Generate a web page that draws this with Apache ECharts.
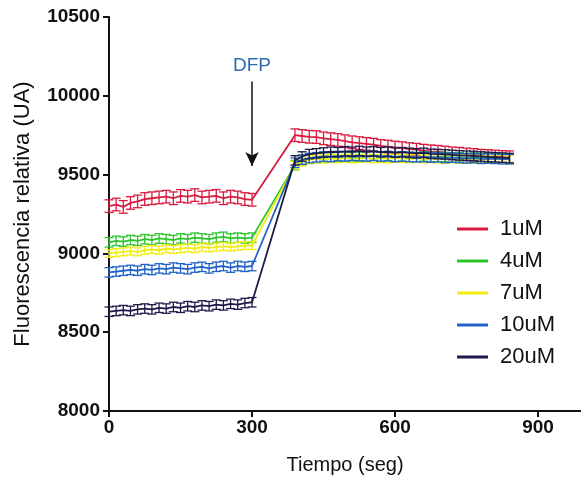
<!DOCTYPE html>
<html>
<head>
<meta charset="utf-8">
<script src="https://cdn.jsdelivr.net/npm/echarts@6/dist/echarts.min.js"></script>
<style>
  html, body { margin: 0; padding: 0; background: #fff; }
  #chart { width: 581px; height: 477px; }
</style>
</head>
<body>
<div id="chart"></div>
<script>
// time points (s): before DFP every 15 s, then after the gap
const times = [
  0, 15, 30, 45, 60, 75, 90, 105, 120, 135, 150, 165, 180, 195, 210, 225, 240, 255, 270, 285, 300,
  390, 405, 420, 435, 450, 465, 480, 495, 510, 525, 540, 555, 570, 585, 600, 615, 630, 645, 660,
  675, 690, 705, 720, 735, 750, 765, 780, 795, 810, 825, 840
]

const names = ['1uM', '4uM', '7uM', '10uM', '20uM']
const colors = ['#d81b3f', '#2ec42e', '#f2ec12', '#1f63c6', '#1e1b4b']

const v1 = [
  9300, 9310, 9295, 9320, 9330, 9345, 9350, 9355, 9360, 9350, 9365, 9360, 9370, 9355, 9360, 9365, 9350, 9360, 9355, 9345, 9340,
  9750, 9745, 9740, 9738, 9730, 9725, 9720, 9712, 9705, 9700, 9695, 9690, 9682, 9678, 9672, 9668, 9662, 9658, 9652, 9648,
  9645, 9640, 9635, 9632, 9628, 9625, 9620, 9618, 9615, 9612, 9610
]
const v4 = [
  9070, 9080, 9075, 9085, 9080, 9090, 9085, 9095, 9090, 9085, 9095, 9090, 9100, 9095, 9090, 9100, 9105, 9095, 9100, 9095, 9100,
  9560, 9590, 9600, 9605, 9610, 9608, 9612, 9615, 9610, 9612, 9615, 9618, 9612, 9615, 9610, 9615, 9612, 9610, 9615, 9612,
  9610, 9612, 9608, 9610, 9605, 9608, 9605, 9610, 9605, 9602, 9600
]
const v7 = [
  9000, 9005, 9010, 9015, 9010, 9020, 9025, 9020, 9030, 9025, 9030, 9035, 9030, 9040, 9035, 9040, 9045, 9040, 9045, 9050, 9050,
  9560, 9580, 9595, 9600, 9598, 9602, 9600, 9605, 9600, 9602, 9605, 9600, 9603, 9600, 9605, 9602, 9600, 9603, 9600, 9602,
  9600, 9598, 9600, 9598, 9600, 9597, 9598, 9596, 9598, 9595, 9595
]
const v10 = [
  8880, 8885, 8890, 8895, 8890, 8900, 8895, 8905, 8900, 8910, 8905, 8900, 8910, 8915, 8905, 8915, 8920, 8910, 8920, 8915, 8920,
  9575, 9595, 9605, 9610, 9615, 9612, 9618, 9615, 9620, 9618, 9615, 9620, 9615, 9618, 9612, 9615, 9612, 9610, 9612, 9608,
  9610, 9605, 9608, 9605, 9603, 9605, 9600, 9602, 9600, 9598, 9598
]
const v20 = [
  8630, 8635, 8640, 8635, 8645, 8650, 8645, 8655, 8650, 8660, 8655, 8665, 8660, 8670, 8665, 8675, 8670, 8680, 8675, 8685, 8690,
  9590, 9615, 9630, 9635, 9640, 9645, 9642, 9648, 9645, 9650, 9645, 9648, 9642, 9645, 9640, 9642, 9638, 9635, 9638, 9632,
  9630, 9628, 9625, 9622, 9620, 9618, 9615, 9612, 9610, 9608, 9605
]
const values = [v1, v4, v7, v10, v20]
// half width of the error bars (UA), one per series
const errs = [40, 30, 25, 30, 30]

const font = 'Liberation Sans, Arial, sans-serif'
const chart = echarts.init(document.getElementById('chart'))

function errorSeries(idx) {
  const data = times.map((t, i) => [t, values[idx][i] - errs[idx], values[idx][i] + errs[idx]])
  return {
    type: 'custom',
    name: names[idx] + '-err',
    silent: true,
    data,
    z: 2 + idx,
    renderItem(params, api) {
      const lo = api.coord([api.value(0), api.value(1)])
      const hi = api.coord([api.value(0), api.value(2)])
      const w = 4.5
      const style = { stroke: colors[idx], lineWidth: 1.3 }
      return {
        type: 'group',
        children: [
          { type: 'line', shape: { x1: lo[0], y1: lo[1], x2: hi[0], y2: hi[1] }, style },
          { type: 'line', shape: { x1: lo[0] - w, y1: lo[1], x2: lo[0] + w, y2: lo[1] }, style },
          { type: 'line', shape: { x1: hi[0] - w, y1: hi[1], x2: hi[0] + w, y2: hi[1] }, style }
        ]
      }
    }
  }
}

const series = []
names.forEach((name, idx) => {
  series.push(errorSeries(idx))
  const s = {
    type: 'line',
    name,
    data: times.map((t, i) => [t, values[idx][i]]),
    showSymbol: false,
    z: 2 + idx,
    lineStyle: { color: colors[idx], width: 1.8 },
    itemStyle: { color: colors[idx] }
  }
  if (idx === 0) {
    s.markLine = {
      silent: true,
      symbol: ['none', 'arrow'],
      symbolSize: [10, 14],
      lineStyle: { color: '#111', width: 1.5, type: 'solid' },
      label: {
        show: true,
        position: 'start',
        formatter: 'DFP',
        color: '#2a6db5',
        fontSize: 19,
        fontFamily: font,
        distance: 6
      },
      data: [[{ coord: [300, 10090] }, { coord: [300, 9555] }]]
    }
  }
  series.push(s)
})

chart.setOption({
  animation: false,
  color: colors,
  grid: { left: 109, right: 0, top: 17, bottom: 66, outerBoundsMode: 'none' },
  legend: {
    data: names,
    orient: 'vertical',
    left: 452,
    top: 213,
    icon: 'rect',
    itemWidth: 31,
    itemHeight: 3,
    itemGap: 10,
    textStyle: { fontSize: 22, color: '#111', fontFamily: font, padding: [0, 0, 0, 7] }
  },
  xAxis: {
    type: 'value',
    min: 0,
    max: 990,
    interval: 300,
    name: 'Tiempo (seg)',
    nameLocation: 'middle',
    nameGap: 44,
    nameTextStyle: { fontSize: 20, color: '#111', fontFamily: font },
    axisLine: { lineStyle: { color: '#111', width: 2 } },
    axisTick: { length: 6, lineStyle: { color: '#111', width: 2 } },
    axisLabel: { fontSize: 19, fontWeight: 'bold', color: '#111', fontFamily: font, margin: 7, showMaxLabel: false },
    splitLine: { show: false }
  },
  yAxis: {
    type: 'value',
    min: 8000,
    max: 10500,
    interval: 500,
    name: 'Fluorescencia relativa (UA)',
    nameLocation: 'middle',
    nameGap: 75,
    nameTextStyle: { fontSize: 22, color: '#111', fontFamily: font },
    axisLine: { lineStyle: { color: '#111', width: 2 } },
    axisTick: { length: 6, lineStyle: { color: '#111', width: 2 } },
    axisLabel: {
      fontSize: 19,
      fontWeight: 'bold',
      color: '#111',
      fontFamily: font,
      margin: 9,
      formatter: (v) => String(v)
    },
    splitLine: { show: false }
  },
  series
})
</script>
</body>
</html>
